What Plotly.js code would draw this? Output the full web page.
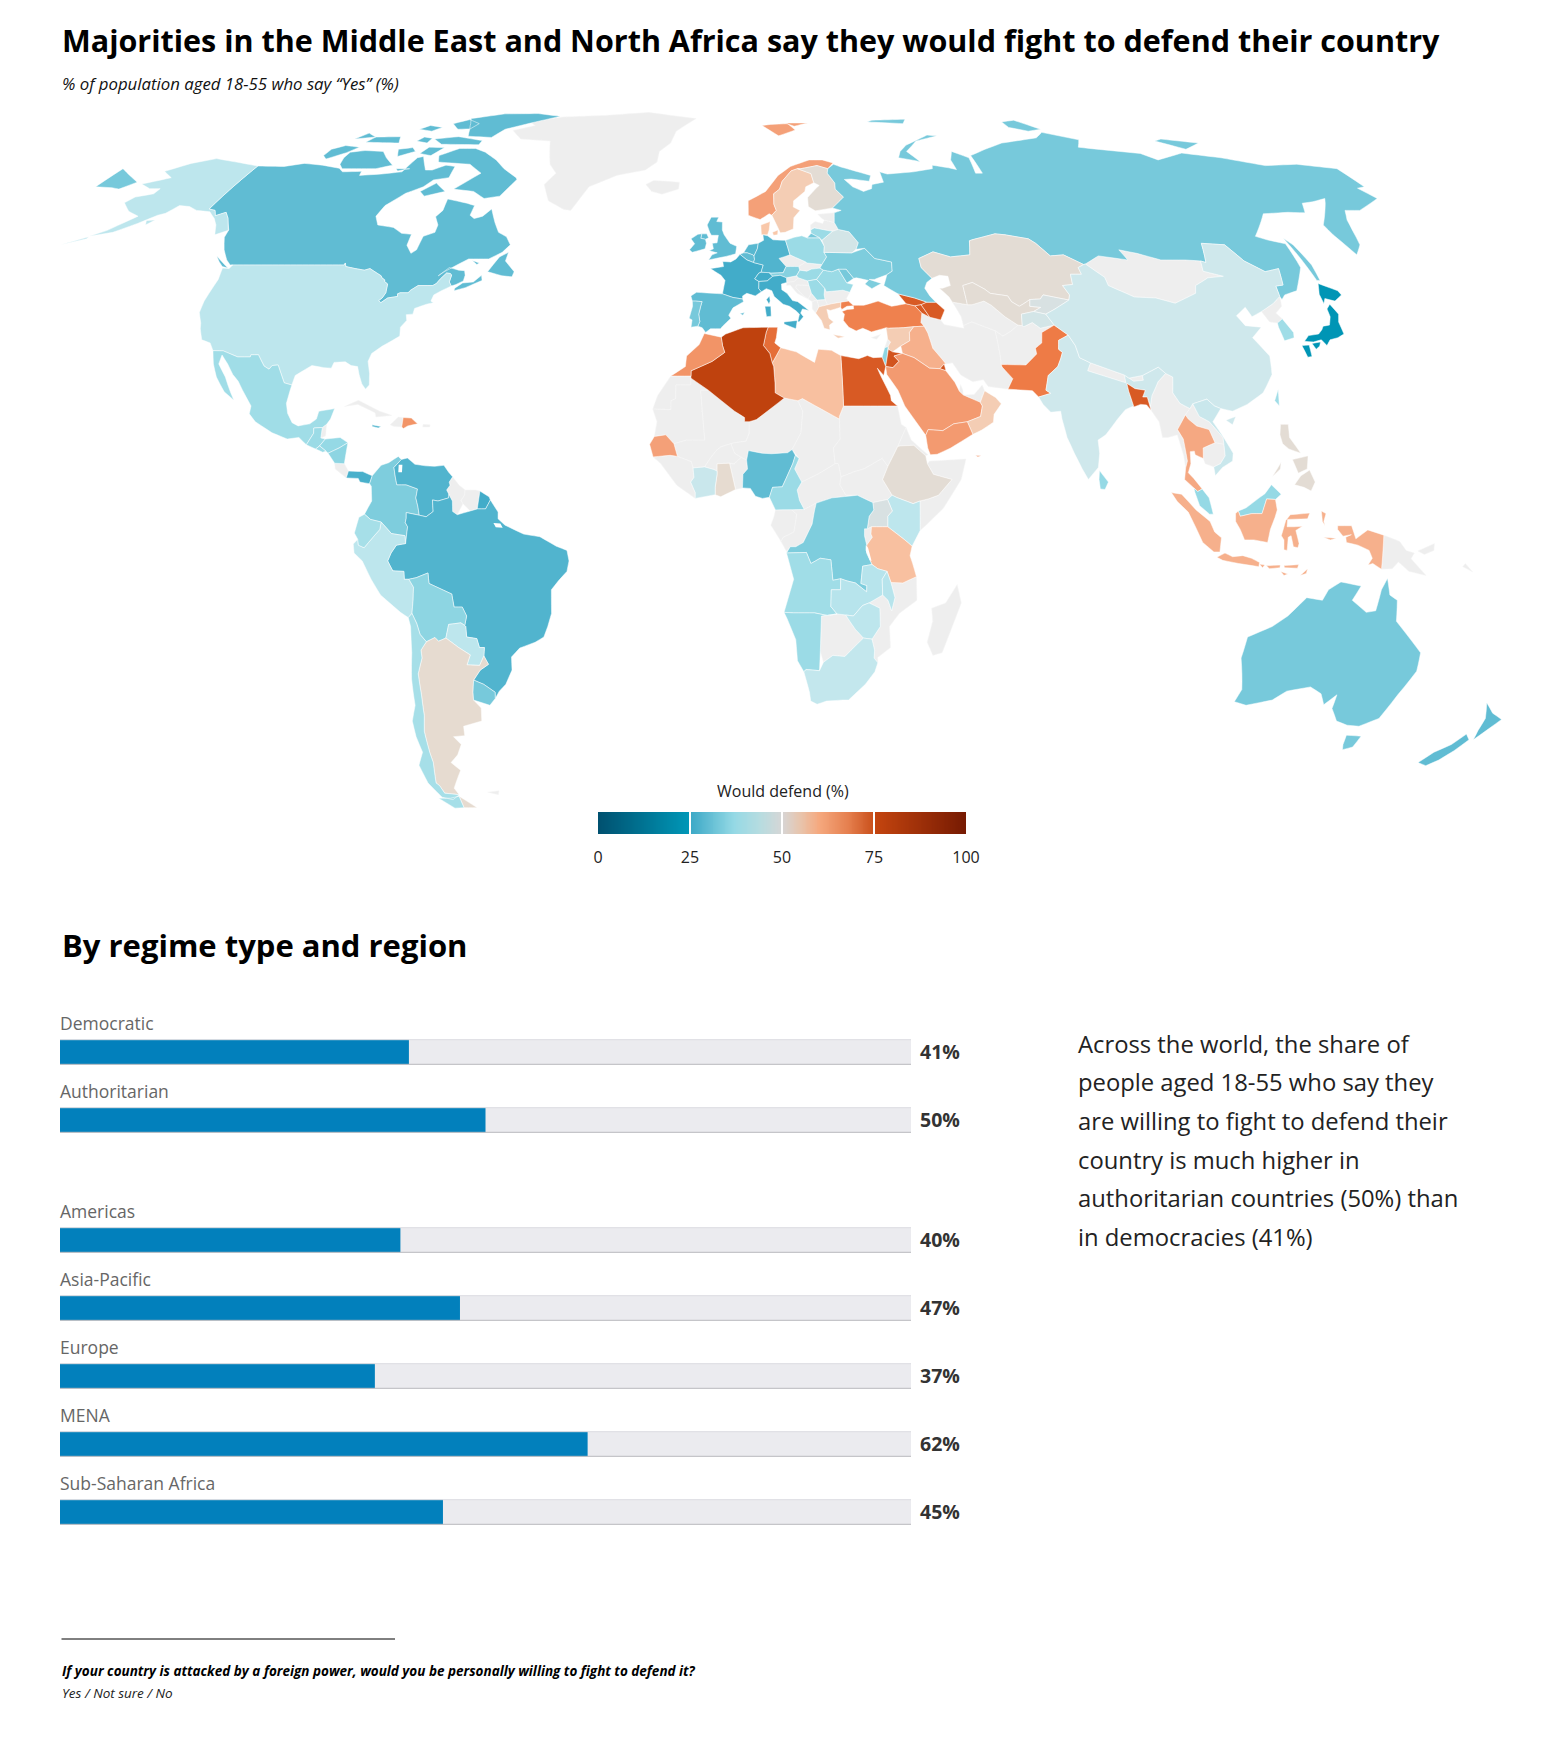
<!DOCTYPE html><html><head><meta charset="utf-8"><script src="https://cdn.plot.ly/plotly-3.0.1.min.js"></script></head><body style="margin:0;background:#fff;overflow:hidden"><div style="position:absolute;left:0;top:0;width:1556px;height:1754px;overflow:hidden"><div id="c" style="position:absolute;left:-105px;top:0"></div></div><script>
// ---------- bar chart data ----------
const regimeNames=['Democratic','Authoritarian'];
const regimeValues=[41,50];
const regionNames=['Americas','Asia-Pacific','Europe','MENA','Sub-Saharan Africa'];
const regionValues=[40,47,37,62,45];
const sideText=['Across the world, the share of','people aged 18-55 who say they','are willing to fight to defend their','country is much higher in','authoritarian countries (50%) than','in democracies (41%)'];
const legendTicks=[0,25,50,75,100];
const scaleStops=[0,25,25.01,37,44,47,50,53,57,62,68,73,75,75.01,100];
const scaleColors=['#00506f','#0098b8','#3aa8c6','#95d9e5','#bde6ed','#cfe8ec','#dcdedd','#e6dbd0','#f9c8aa','#f4a078','#ee7b46','#d85a24','#cc4e18','#c5450f','#761a02'];
const legendStops=[0,25,25.01,37,44,50,55,60,68,75,75.01,100];
const legendColors=['#00506f','#0098b8','#3aa8c6','#95d9e5','#b6dce0','#d6d6d6','#e8c4ac','#f5a97f','#e57f4e','#c94f1a','#c5450f','#761a02'];
const noDataColor='#eeeeee';
// ---------- country outlines, lon/lat flat lists ----------
const GRL=[[-73,78.2,-68,76,-58,75.5,-54,70,-51,68,-53,65.5,-50,62,-45,60.2,-43,60,-40,65,-33,67.5,-25,68.7,-22,70.5,-22,73,-19,75,-18,78,-12,81.5,-30,83.5,-45,82.5,-60,82,-70,80.5,-67,79.5]];
const ISL=[[-24,65.5,-22,64,-19,63.4,-14.5,64.5,-14.5,66,-18,66.2,-22,66.4]];
const CUB=[[-84.9,21.9,-82,23.1,-77,21,-74.2,20.2,-77.7,19.9,-78,20.7,-82,22.3]];
const HTI=[[-74.4,18.4,-72.8,19.9,-71.7,19.8,-71.8,18,-73.5,18.1]];
const PRI=[[-67.2,18.5,-65.6,18.4,-65.7,18,-67.2,18]];
const BLZ=[[-89.15,17.9,-88.3,18.5,-88.2,16.3,-89.2,15.9]];
const CRI=[[-85.7,11.1,-83.6,11,-82.6,9.6,-83,8.3,-85.5,10]];
const GUY=[[-60,8.5,-58.5,6.9,-57.2,6,-57.3,5,-58,4,-57.6,3.4,-58.8,1.3,-59.8,1.9,-59.9,3.9,-60.7,5.2,-61.2,6,-60.5,6.9,-60.7,7.5]];
const SUR=[[-57.2,6,-55,6,-54,5.8,-54.5,2.4,-56,2,-57.6,3.4,-58,4,-57.3,5]];
const FLK=[[-61,-51.8,-58,-51.5,-58.5,-52.3]];
const CZE=[[12.2,50.3,15,51,18.8,49.6,16.9,48.7,13.8,48.7]];
const SVK=[[16.9,48.7,18.8,49.6,19,49.4,22.7,49.1,22.1,48.4,20,48.2,18.8,47.8,17.1,48]];
const SVN=[[13.7,46.5,16.2,46.9,16.6,46.5,15.5,45.8,13.7,45.6]];
const HRV=[[13.7,45.6,15.5,45.8,16.6,46.5,18.8,45.9,19,45,16,45.1,15.8,44.6,17.5,43,18.5,42.4,16,43.5,14.5,45.1,13.6,45]];
const BIH=[[16,45.1,19,45,19.4,43.5,18.5,42.4,17.5,43,15.8,44.6]];
const MNE=[[18.5,42.4,19.4,43.5,20.6,42.2,19.4,41.9]];
const ALB=[[19.4,41.9,20.6,42.2,20.9,40.9,20,39.7,19.3,40.5]];
const MKD=[[20.6,42.2,22.5,42.3,23,41.3,20.9,40.9]];
const BGR=[[22.7,44.5,23,43.8,27,44.1,28.6,43.7,27.6,42.5,28,42,26.2,41.8,24,41.5,23,41.3,22.5,42.3,22.4,43.2]];
const LVA=[[21,56,21.1,57,22.5,57.7,24.4,57.3,25,58,27.5,57.5,28.2,56.1,26.6,55.7,22,56.4]];
const EST=[[23.5,59.2,28,59.5,27.5,57.5,25,58,24.4,58.3]];
const CYP=[[32.3,35,34.5,35.6,33.5,34.7]];
const TKM=[[52.5,41.8,52.9,41,53.8,39,53.9,37.3,56,38,61,36.3,62.5,35.3,64.5,36.2,66.5,37.4,64,39,61.5,41.2,60,42,57,41.3,55.9,41.3]];
const IRN=[[44.8,39.7,46.5,38.9,48.9,38.4,49.5,37.5,53.9,36.8,53.9,37.3,56,38,61,36.3,61,31.5,60.9,29.9,61,29.4,63,27.2,61.6,25.2,57.3,25.7,56.4,27,54,26.6,51.5,27.9,50,30.2,48.5,30,47.7,31,46,33,45.4,35.9,44.8,37.2,44.2,37.9]];
const AFG=[[61,36.3,62.5,35.3,64.5,36.2,66.5,37.4,67.5,37.3,67.8,37.1,70,37.9,71.5,36.8,74.9,37.4,71.6,36,71,34,69.3,33,69.3,31.9,66.4,29.8,60.9,29.9,61,31.5]];
const NPL=[[80,28.7,81,30.2,88,27.9,88,26.4]];
const BTN=[[88.9,27.3,92,27.8,92,26.9,89.8,26.7]];
const MNG=[[87.8,49.2,92,50.8,98.8,50,98,52,102,51.3,107,50,113,50,116.7,49.8,115.8,47.8,120,46.8,116,46.5,112,45,111,43.5,105,41.6,101,42.6,96,42.8,91,45,91,46.6]];
const PRK=[[124.3,40,128,41.5,130.6,42.9,129.7,41,127.5,39.7,128.3,38.6,126.7,37.8,125,38]];
const MMR=[[92.6,22,93.3,24,95.2,26.6,97.3,28.2,98.7,27.5,98,24.5,99.2,22.5,101.2,21.5,100,20.3,97.8,17.5,98.8,15.7,99.2,11.5,98.7,10.2,98.5,12.5,97.6,16.5,95.5,16,94.3,16,94,19,92.6,21.2]];
const LAO=[[101.2,21.5,102,22.4,103,20,105,19,107.5,16,107.5,14.7,105.6,15,104.7,17.5,102.1,18.2,100.5,19.5,100,20.3]];
const KHM=[[102.9,14,105.6,15,107.5,14.7,107.5,12.5,106.3,11,104.8,10.4,103,11,102.7,12]];
const MDG=[[49.3,-12,50.4,-15.5,47,-25,45,-25.5,43.5,-23,44.4,-19,44,-16.5,47,-15.5]];
const PNG=[[141,-2.6,144.5,-3.8,146,-5.5,147.8,-6,147.2,-7.1,150.8,-10.3,147,-9.5,144.5,-7.7,143.3,-9,141,-9.1],[148.5,-5.6,152,-4.2,152,-5.5,150,-6.3],[159,-8,160.8,-9.6,158.5,-8.6]];
const QAT=[[50.8,24.8,51.2,26.1,51.6,25,51.6,24.1]];
const ARE=[[51.6,24.1,54,24.2,56,26,56.4,24.9,55.2,22.7]];
const LBN=[[36,34.7,36.6,34.2,35.9,33.3,35.1,33.1]];
const ESH=[[-13.2,27.7,-8.7,27.7,-8.7,26,-12,26,-12,23.4,-13,23,-13,21.3,-17,21.4,-16,24,-14.5,26]];
const MRT=[[-17,21.4,-13,21.3,-13,23,-12,23.4,-12,26,-8.7,26,-8.7,27.3,-4.8,25,-6.5,25,-5.5,15.5,-9.5,15.5,-12.2,14.8,-14,16.5,-16.5,16.2,-16,19]];
const MLI=[[-4.8,25,1,21,3.2,19.8,3.2,19,4.2,19,4.2,16.8,3.5,15.3,1,15,0.2,14.8,-2,14.2,-3,13.5,-4.3,12,-5.5,10.4,-8,10.2,-8.4,11.4,-11.4,12.4,-12.2,14.8,-9.5,15.5,-5.5,15.5,-6.5,25]];
const NER=[[12,23.5,15,23,16,21,15.5,16.9,13.5,13.7,12.5,13.1,9,12.9,7,13,4,13.5,3.6,11.7,2.4,12.2,1,13,0.2,14.8,1,15,3.5,15.3,4.2,16.8,4.2,19,5.8,19.4]];
const TCD=[[15,23,16,23.4,24,19.5,24,15.7,22.5,14,22.8,11,19,9,15.5,7.5,14,10,15,12,13.5,13.7,15.5,16.9,16,21]];
const SDN=[[24,19.5,24,20,25,22,36.9,22,37.5,18.5,38.5,17.9,36.5,14.3,34.2,10.5,33,12,29,10,27,9.5,24,8.5,23.5,11,22.8,11,22.5,14,24,15.7]];
const SSD=[[24,8.5,27,9.5,29,10,33,12,34.2,10.5,33,8,35,5,34,4.2,30.8,3.6,27.5,5,25,5,23.7,7]];
const CAF=[[14.5,6,15.5,7.5,19,9,22.8,11,23.5,11,24,8.5,23.7,7,25,5,27.5,5,22,4.5,18.6,3.5,16,2.3,15,4]];
const ERI=[[36.5,14.3,38.5,17.9,39.5,15.5,43,12.7,42.5,12.5,40,14.5,37,14.4]];
const SOM=[[41,-1.7,41,3.9,42.8,4.3,45,5,48,8,44,9,42.8,11,43.3,11.5,51.2,11.9,50,8,46,2.5,42.5,-0.5]];
const RWA=[[29,-1.4,30.5,-1,30.4,-2.4,30.7,-3,29.5,-4.5,29,-2.7]];
const MOZ=[[40.4,-10.5,40.7,-15,37,-17.5,35,-20,35.5,-24,32.8,-25.9,32.9,-26.9,32,-26,32,-24.5,31.3,-22.4,33,-20,32.7,-16.5,30.3,-15.5,33.2,-14,34.4,-15,35.3,-17,35.9,-14.5,34.9,-11.6,37.5,-11.7]];
const BWA=[[20,-18,21.3,-17.9,23.4,-17.6,25.3,-17.8,26,-18.7,27.5,-20.5,29.4,-22.2,26.8,-24.5,25.5,-25.7,22.8,-25.5,20.8,-26.8,20,-24.7,20,-22]];
const LSO=[[27,-29.7,28.7,-28.6,29.4,-29.6,28,-30.6]];
const SWZ=[[30.8,-26,32,-26,32,-27.3,30.9,-27]];
const GAB=[[9.8,2.2,13.3,2.2,14.4,1.4,13.8,-2,11.5,-3,11,-3.8,8.8,-0.7,9.5,1]];
const COG=[[11,-3.8,11.5,-3,13.8,-2,14.4,1.4,13.3,2.2,16,2.3,18.6,3.5,18.2,2,17.7,-0.5,15.8,-4,14.2,-4.8,13,-4.8,12.2,-5.7]];
const BEN=[[-0.1,11.1,1.2,6.1,2.7,6.4,2.8,9,3.8,10,3.6,11.7,2.4,12.2,0.9,11]];
const BFA=[[-5.5,10.4,-4.3,12,-3,13.5,-2,14.2,0.2,14.8,1,13,2.4,12.2,0.9,11,-0.1,11.1,-2.8,11,-2.8,9.6,-3.5,9.9]];
const GIN=[[-16.7,12.3,-15,11,-13.3,9,-11.5,6.9,-7.5,4.4,-7.5,5.5,-8.5,7.5,-7.8,8.4,-8,10.2,-8.4,11.4,-11.4,12.4,-13,12.6]];
const CAN=[[-123.3,49,-95.2,49,-95.15,49.4,-94.6,48.7,-92,48.3,-89.6,48,-88.4,48.3,-84.9,46.9,-84.5,46.5,-83.6,46.1,-83.5,45.8,-82.5,45.3,-82.1,43.6,-82.5,42.6,-83.1,42.1,-82.4,41.7,-81.2,42.6,-79,42.9,-79.2,43.4,-78.7,43.6,-76.8,43.6,-76.4,44.1,-75,45,-71.5,45,-70.8,45.4,-70.2,46.3,-69.2,47.45,-68.3,47.35,-67.8,47.06,-67.8,45.7,-67.4,45.3,-67,44.9,-66,45.2,-64.5,45.9,-64.5,47,-65,47.9,-66.5,48,-69,48.5,-71,46.9,-70,47.6,-67,49.2,-65,50.2,-60,50.2,-57.2,51.5,-55.8,53,-57.5,54.6,-60,55.5,-62,57.5,-64.5,60.3,-66,58.8,-68,58.3,-69.5,59,-69.6,61,-72,61.5,-78,62.4,-77.5,60,-78.5,58.7,-76.7,57,-76.5,55.5,-79,54.7,-79,52,-80,51.3,-82,52.9,-82.3,55.1,-85,55.3,-88,56.5,-92.5,57,-94.5,58.8,-94,61,-90.7,63.6,-87,65,-85.5,66.5,-81.5,67,-82,69.5,-85,69.8,-88,68.7,-90,68.7,-91,69.5,-94,71.8,-95.5,71.5,-96.5,68.3,-102,67.8,-108,67.5,-108.5,68.4,-114,68.3,-116,69.1,-122,69.8,-128,70.2,-133,69.5,-141,69.6,-141,60.3,-139,60,-137.5,58.9,-135.5,59.6,-133.5,58.4,-130.5,56,-130,54.5,-127.5,52,-125,50],
[-61.5,66.6,-64,63,-68,62.5,-72,64,-78,64.5,-73,68,-78,70,-88,70.5,-89.5,72,-85,73.7,-80,73.7,-76,72.8,-71,71,-67,69,-62,67],
[-105,69,-115,69,-117,70,-118,71.5,-118,72.8,-114,73.2,-108,73,-105,71.5,-101,69.8],
[-125,72,-123,71.2,-119,72.7,-117,74,-122,74.4,-125,73.5],
[-61,82.2,-70,83.1,-82,83,-92,81.5,-88,78.5,-86,76.7,-78,76.4,-76,78.5,-68,80.5],
[-87,80,-92,81.2,-96,80,-92,78.5,-88,78.6],[-80,74.6,-92,74.7,-96,76,-89,76.6,-80,75.6],[-106,75,-117,75.2,-116,76.5,-108,76.6],[-90,73.9,-95,74,-96,72.5,-92,72],[-98,73,-102,71.8,-104,73.5,-100,73.9],[-80,64,-85,63,-87,64,-84,65.8],[-100,78,-105,78.5,-103,79.5,-98,79],
[-97,75,-101,75.5,-100,76.5,-97,76.2],[-116,76.5,-122,76,-120,77.5],[-95,69,-99,69,-98,68.5],
[-59.3,47.7,-55.5,46.9,-53,46.7,-52.8,47.7,-55.7,49.8,-55.6,51.5,-57.5,50.6],[-128.2,50.8,-123.4,48.4,-125,48.7,-126.5,49.6],[-66,44,-63.5,44.6,-60,46,-60.5,47,-62,45.7,-64.5,45.5,-66,44.5],[-64,49.9,-62,49.4,-62.5,49.1]];
const USA=[[-123,49,-95.2,49,-95.15,49.4,-94.6,48.7,-92,48.3,-89.6,48,-88.4,48.3,-84.9,46.9,-84.5,46.5,-83.6,46.1,-83.5,45.8,-82.5,45.3,-82.1,43.6,-82.5,42.6,-83.1,42.1,-82.4,41.7,-81.2,42.6,-79,42.9,-79.2,43.4,-78.7,43.6,-76.8,43.6,-76.4,44.1,-75,45,-71.5,45,-70.8,45.4,-70.2,46.3,-69.2,47.45,-68.3,47.35,-67.8,47.06,-67.8,45.7,-67.4,45.3,-67,44.9,-69,44,-70.5,43.2,-70.7,42,-70,41.7,-71.5,41.4,-74,40.6,-74,39.5,-75.5,39.4,-75,38.3,-76,37,-75.6,35.3,-77,34.5,-79,33.4,-81,32,-81.4,30.5,-80.5,28.2,-80.1,26,-80.8,25.2,-81.8,26.2,-82.8,28,-83.5,29.5,-85,29.7,-86.5,30.4,-89,30.3,-89.3,29.2,-91,29.3,-93.8,29.7,-95,29,-97,27.8,-97.3,26,-99.1,26.4,-100.3,28.2,-101.4,29.8,-102.7,29.7,-103.2,29,-104.5,29.6,-106.5,31.75,-108.2,31.75,-108.2,31.33,-111,31.33,-114.8,32.5,-117.1,32.53,-118.4,34,-120.6,34.6,-122,36.7,-122.5,37.8,-124,39.8,-124.3,42,-124,46.2,-124.7,48.4,-123,48.3,-122.7,49],
[-141,69.6,-148,70.4,-156.5,71.3,-162,70.2,-166.5,68.4,-162,67,-164,66.5,-168,65.6,-164,64.6,-161,64.6,-161,63.5,-165,62.8,-166,61.6,-162,59.8,-158,58.8,-162,55.9,-165,54.7,-160,55.5,-156,57.3,-153,59,-151.5,59.4,-150,61,-147,60.8,-144,60,-140,59.7,-137,58.3,-135,57,-133,55,-130.5,55.9,-133.5,58.4,-135.5,59.6,-137.5,58.9,-139,60,-141,60.3],
[-165,54.6,-170,53,-165,54.2],[-154.5,57.9,-152.3,58,-153.5,57]];
const MEX=[[-117.1,32.53,-114.8,32.5,-111,31.33,-108.2,31.33,-108.2,31.75,-106.5,31.75,-104.5,29.6,-103.2,29,-102.7,29.7,-101.4,29.8,-100.3,28.2,-99.1,26.4,-97.3,26,-97.8,22.5,-97.2,20.6,-95.9,18.8,-94.5,18.2,-92,18.6,-90.7,19.5,-90.4,21,-87,21.5,-87.6,19.5,-88.3,18.5,-89.15,17.9,-91,17.8,-90.9,16.8,-92.2,14.6,-94,16,-96.5,15.7,-100,16.9,-104,19,-105.6,20.5,-105.5,22,-108,25,-109.4,26.7,-111,28,-112.8,30,-114.7,31.7,-114.8,30,-112.5,27.5,-110.5,24.5,-109.5,23.1,-112,24.7,-114.5,27.5,-116,30]];
const GTM=[[-92.2,14.6,-90.9,16.8,-91,17.8,-89.15,17.9,-89.2,15.9,-88.2,15.7,-89.3,14.4,-90.1,13.8]];
const HND=[[-88.2,15.7,-85,16,-83.2,15,-85,14,-87.3,13,-87.8,13.4,-89.3,14.4]];
const SLV=[[-90.1,13.8,-89.3,14.4,-87.8,13.4,-88.5,13.2]];
const NIC=[[-83.2,15,-83.6,11,-85.7,11.1,-87.3,13,-85,14]];
const PAN=[[-82.6,9.6,-79.5,9.5,-77.4,8.7,-77.9,7.2,-80,7.5,-80.4,8.2,-83,8.3]];
const JAM=[[-78.3,18.4,-76.3,18.1,-76.9,17.8,-78.3,18.1]];
const DOM=[[-71.7,19.8,-69.9,19.7,-68.4,18.6,-70.5,18.2,-71.4,17.7,-71.8,18]];
const COL=[[-77.4,8.7,-75.6,10.7,-74,11.2,-72,12.4,-71.3,11.8,-72.8,10.3,-72.4,8.5,-72,7,-70,7,-67.5,6.2,-67.8,4.5,-67.3,2.8,-67,1.2,-69.8,1.7,-69.8,0.6,-70,-0.2,-69.5,-1,-70,-4.2,-70.1,-2.7,-73,-2.3,-75.2,-0.1,-77.5,0.4,-78.8,1.4,-77.3,3.9,-77.5,6.7,-77.9,7.2]];
const VEN=[[-71.3,11.8,-70,12.1,-68.3,10.9,-66,10.6,-64,10.5,-62,10.7,-60.9,9.4,-60,8.5,-60.7,7.5,-60.5,6.9,-61.2,6,-60.7,5.2,-60.7,4.5,-63,3.9,-64.2,4.1,-64,1.9,-65.5,0.9,-67,1.2,-67.3,2.8,-67.8,4.5,-67.5,6.2,-70,7,-72,7,-72.4,8.5,-72.8,10.3]];
const GUF=[[-54,5.8,-52,4.7,-51.7,4.1,-52.7,2.4,-54.5,2.4]];
const BRA=[[-51.7,4.1,-50,1.8,-50,0.5,-48.5,-0.7,-44.5,-2.4,-41,-2.9,-37.5,-4.7,-35.2,-5.5,-34.8,-7.5,-35.3,-9.5,-37.2,-11.3,-38.8,-13,-39,-17.5,-40,-20,-41,-22,-43,-23,-46.5,-24.1,-48.5,-25.8,-48.7,-28.3,-50.5,-31,-52.2,-32.3,-53.4,-33.7,-53.2,-32.5,-55.5,-31,-57.6,-30.2,-55.8,-28.3,-53.8,-27.2,-54.6,-25.6,-54.3,-24,-55.4,-24,-55.8,-22.3,-58,-22,-58,-20,-58.2,-19.8,-57.6,-18,-58.4,-16.3,-60.2,-16.3,-60.5,-13.8,-62.2,-13.1,-65.3,-11.8,-65.4,-9.8,-68,-10.7,-69.6,-11,-70.6,-11,-70.6,-9.5,-73,-9.4,-74,-7.5,-73.2,-6,-72,-4.5,-70,-4.2,-69.5,-1,-70,-0.2,-69.8,0.6,-69.8,1.7,-67,1.2,-65.5,0.9,-64,1.9,-64.2,4.1,-63,3.9,-60.7,4.5,-60.7,5.2,-59.9,3.9,-59.8,1.9,-58.8,1.3,-56,2,-54.5,2.4,-52.7,2.4]];
const PER=[[-80.3,-3.4,-80.2,-4.5,-79,-5,-77,-3,-75.5,-1.5,-75.2,-0.1,-73,-2.3,-70.1,-2.7,-70,-4.2,-72,-4.5,-73.2,-6,-74,-7.5,-73,-9.4,-70.6,-9.5,-70.6,-11,-69.6,-11,-68.7,-12.5,-69,-15,-69.5,-17.5,-70.4,-18.3,-72,-17.3,-76,-14,-77.8,-11,-79.5,-7.5,-81.2,-6,-81.3,-4.3]];
const ECU=[[-80.3,-3.4,-81,-2.2,-80,0.8,-78.8,1.4,-77.5,0.4,-75.2,-0.1,-75.5,-1.5,-77,-3,-79,-5,-80.2,-4.5]];
const BOL=[[-69.6,-11,-68,-10.7,-65.4,-9.8,-65.3,-11.8,-62.2,-13.1,-60.5,-13.8,-60.2,-16.3,-58.4,-16.3,-57.6,-18,-58.2,-19.8,-59,-19.3,-61.7,-19.6,-62.6,-22.2,-64.3,-22.8,-65,-22.1,-67,-22.9,-68.2,-21.5,-68.7,-19.4,-69.5,-17.5,-69,-15,-68.7,-12.5]];
const PRY=[[-58.2,-19.8,-58,-20,-58,-22,-55.8,-22.3,-55.4,-24,-54.3,-24,-54.6,-25.6,-55.8,-27.4,-58.6,-27.3,-57.6,-25.4,-60,-24,-62.6,-22.2,-61.7,-19.6,-59,-19.3]];
const ARG=[[-65,-22.1,-64.3,-22.8,-62.6,-22.2,-60,-24,-57.6,-25.4,-58.6,-27.3,-55.8,-27.4,-54.6,-25.6,-53.8,-27.2,-55.8,-28.3,-57.6,-30.2,-58.2,-32.5,-58.4,-34,-57,-35.5,-57.5,-38,-62,-39,-62.3,-40.8,-65,-41,-63.7,-42.5,-65.3,-44.5,-67.5,-46,-65.8,-47.5,-69,-51,-68.4,-52.3,-71.9,-52,-72.4,-50.5,-73,-50,-71.8,-46,-71.8,-44,-71.5,-40,-70.5,-37,-70,-33,-69.8,-29,-68.4,-26,-68.4,-24.5,-67,-22.9],[-68.6,-52.6,-65.2,-54.9,-68.6,-54.9]];
const CHL=[[-70.4,-18.3,-69.5,-17.5,-68.7,-19.4,-68.2,-21.5,-67,-22.9,-68.4,-24.5,-68.4,-26,-69.8,-29,-70,-33,-70.5,-37,-71.5,-40,-71.8,-44,-71.8,-46,-73,-50,-72.4,-50.5,-71.9,-52,-68.4,-52.3,-70.5,-53.3,-73,-52.8,-75,-50,-75.5,-46.5,-73.5,-44,-73.8,-41,-73.6,-38,-72,-35,-71.5,-30,-70.5,-25,-70.1,-20],[-68.6,-52.6,-68.6,-54.9,-71,-55,-74,-53,-71,-53]];
const URY=[[-57.6,-30.2,-55.5,-31,-53.2,-32.5,-53.4,-33.7,-54.9,-35,-58.4,-34,-58.2,-32.5]];
const GBR=[[-5.3,50,-1,50.7,1.4,51.2,1.7,52.7,0,53.3,-1.5,55,-2,56,-2,57.6,-3.5,57.7,-3,58.6,-5,58.6,-6,57,-5.2,55.4,-4.8,54.9,-3,54.9,-3.3,53.4,-4.5,53.3,-4.2,52.2,-5.2,51.8,-3.2,51.4,-4.5,51],[-7.3,55.2,-6,55.2,-5.5,54.4,-6.3,54.1,-7.5,54.3]];
const IRL=[[-6,53.3,-6.3,52.2,-9.5,51.5,-10.2,52,-9,53.2,-10,54.2,-8.3,55.1,-7.3,55.2,-7.5,54.3,-6.3,54.1]];
const NOR=[[4.9,59,5,62,10,64,14,67.5,18,69.5,24,71,28,71,31,70.3,29,69,26,69.7,21,69,20,69,18,68.5,15,66.2,14,64.5,12.2,63.5,12,61.3,12.5,60,11.2,59,10.5,59.3,8,58.1,5.5,58.8],[11,79.5,16,76.8,22,78.3,20,80,14,79.8],[19,80.2,27,80.2,22,79.3]];
const SWE=[[11.2,59,12.5,60,12,61.3,12.2,63.5,14,64.5,15,66.2,18,68.5,20,69,23.7,67.9,24,65.9,21.5,65,21,64,17.5,62,17.2,60.7,18.9,60,17,58.5,16.5,56.2,14.3,55.5,13,55.4,12.6,56.3]];
const FIN=[[20,69,21,69,26,69.7,29,69,28.5,68,30,65.8,29.7,64.5,31.5,62.8,27.8,60.5,23,59.9,21.3,60.8,21.5,62.7,24.5,64.8,25.4,65.3,24,65.9,23.7,67.9]];
const DNK=[[8.1,55,8.1,57,10.6,57.7,10.2,56,9.7,55],[11,55.5,12.5,56,12.3,55,11.2,54.9]];
const NLD=[[3.4,51.4,4.7,53,7.2,53.3,6.9,52.2,6,50.8,5.7,51,4.3,51.4]];
const BEL=[[2.5,51.1,3.4,51.4,4.3,51.4,5.7,51,6,50.8,6.1,50.1,5.8,49.5,4.2,50]];
const FRA=[[2.5,51.1,4.2,50,5.8,49.5,8.2,49,7.6,47.6,7,47.4,6,46.3,7,45.8,6.9,44.4,7.5,43.8,6,43,4,43.5,3,43,3,42.4,0.7,42.7,-1.8,43.4,-1.2,46,-2.2,47,-4.8,48.3,-1.6,48.7,-1.8,49.7,0.2,49.6,1.5,50.2],[8.6,42.3,9.4,43,9.5,42,9.2,41.4]];
const ESP=[[-1.8,43.4,0.7,42.7,3,42.4,3.2,41.9,0.7,40.7,-0.3,39.3,0.2,38.7,-1.7,37.2,-2.2,36.7,-4.5,36.7,-5.6,36,-6.4,36.9,-7.4,37.2,-7,38.1,-7.3,39.5,-6.9,41,-6.6,41.9,-8.2,42,-8.9,42,-9.3,43,-8,43.7],[2.3,39.6,3.4,39.8,3,39.3]];
const PRT=[[-8.9,42,-8.2,42,-6.6,41.9,-6.9,41,-7.3,39.5,-7,38.1,-7.4,37.2,-9,37,-8.8,38.4,-9.5,38.7,-8.8,41]];
const DEU=[[6,50.8,6.9,52.2,7.2,53.3,8.6,53.9,8.5,55,9.7,54.8,11,54,14.2,53.9,14.6,52.5,15,51,12.2,50.3,13.8,48.7,13,47.5,10,47.4,7.6,47.6,8.2,49,5.8,49.5,6.1,50.1]];
const CHE=[[6,46.3,7,47.4,7.6,47.6,9.6,47.5,10.4,46.8,9,45.9,7,45.8]];
const AUT=[[9.6,47.5,10,47.4,13,47.5,13.8,48.7,16.9,48.7,17.1,48,16.2,46.9,13.7,46.5,12.2,47,10.4,46.8]];
const ITA=[[6.9,44.4,7,45.8,9,45.9,10.4,46.8,12.2,47,13.7,46.5,13.7,45.6,12.4,45.3,12.4,44.2,13.6,43.5,14.8,42.1,16,41.9,18.5,40.2,17,40.5,16.5,39.7,17.1,39,16,38,15.7,38.1,16.2,39.5,15.5,40.1,14,41,12.5,41.4,10.5,42.9,10,44,8.7,44.4,7.5,43.8],[12.5,38,15.6,38.3,15.2,36.7,12.5,37.6],[8.2,41,9.6,41,9.6,39.1,8.5,39]];
const POL=[[14.2,53.9,16.5,54.5,18.5,54.8,19.8,54.4,23,54.4,23.9,52.7,23.6,51.5,24.1,50.6,22.7,49.1,19,49.4,18.8,49.6,15,51,14.6,52.5]];
const HUN=[[16.2,46.9,17.1,48,18.8,47.8,20,48.2,22.1,48.4,22.9,48,21,46.2,18.8,45.9,16.6,46.5]];
const SRB=[[18.8,45.9,21,46.2,22.7,44.5,22.4,43.2,22.5,42.3,20.6,42.2,19.4,43.5,19,45]];
const ROU=[[22.9,48,24.9,47.7,26.6,48.2,28.2,45.5,29.7,45.2,28.6,43.7,27,44.1,23,43.8,22.7,44.5,21,46.2]];
const MDA=[[26.6,48.2,28.5,48.2,30,46.4,28.2,45.5]];
const UKR=[[22.1,48.4,22.7,49.1,24.1,50.6,23.6,51.5,30.6,51.4,34,52.3,36,50.3,40,49.6,39.7,47.8,38.2,47.1,35,46.2,33.7,46.2,36.5,45.4,34,44.4,32.5,45.3,33.5,46,30.7,46.5,30,46.4,28.5,48.2,26.6,48.2,24.9,47.7,22.9,48]];
const BLR=[[23.9,52.7,23.5,53.9,26.6,55.7,28.2,56.1,30.9,55.6,32.7,53.4,31.8,52.1,30.6,51.4,23.6,51.5]];
const LTU=[[21,56,22,56.4,26.6,55.7,23.5,53.9,23,54.4,21,55.3]];
const GRC=[[20,39.7,20.9,40.9,23,41.3,24,41.5,26.2,41.8,26,40.8,23.5,40.2,22.7,40.4,23,38.7,24,38,23,37.4,23,36.5,21.7,36.8,21.2,38.3],[23.6,35.6,26.3,35.2,24.7,34.9]];
const TUR=[[26.2,41.8,28,42,29,41.2,31.5,41.2,35,42,38,41,41.5,41.5,43.5,41.1,44.8,39.7,44.2,37.9,44.8,37.2,42.4,37.1,40,36.9,36.7,36.8,36.1,35.9,36,36.9,32.5,36.1,30.6,36.8,29,36.3,27.4,37,26.3,38.3,26.7,39.5,26.2,40,27.5,40.4,29,40.5,29,41.1,27.5,41,26.2,40.4,26,40.8]];
const GEO=[[40,43.4,43.8,42.6,46.5,41.8,45,41.3,43.5,41.1,41.5,41.5]];
const ARM=[[43.5,41.1,45,41.3,46.5,38.9,44.8,39.7]];
const AZE=[[45,41.3,46.5,41.8,48.6,41.8,50.3,40.3,48.9,38.4,46.5,38.9]];
const RUS=[[27.8,60.5,31.5,62.8,29.7,64.5,30,65.8,28.5,68,29,69,31,70,33,69.4,41,67.5,40,66.2,35,66.7,33,66.6,34.8,65,37.5,64,40,64.6,40.5,65.5,44,66,44,68.3,46,67.8,54,68.3,60,69,60.5,69.8,65,69.2,67,68.8,67,71,69,73,73,71.5,72,68,74,68,74,72,80,73.5,87,75,100,76.3,104,77.7,113,75.8,110,74,113,73.7,127,72.5,130,71,140,72.6,150,71.5,160,69.7,170,70,179.99,69,179.99,65,177.5,64.7,179,62.5,170,60,166,60,163.5,58,162,56,160,53,156.8,51,155.7,55,155.8,57,163,61.5,164.5,62.5,160,61.8,156.7,61.5,154.5,59.5,150,59.6,143,59.3,135.3,54.7,137.5,54,141.3,53.2,140.3,48.5,135.5,44,132,43.2,130.7,42.3,130.6,42.9,131.2,44.9,133.1,45.1,134.7,48.3,130.9,47.7,127.5,49.8,125.6,53,120,53.3,117.8,49.5,116.7,49.8,113,50,107,50,102,51.3,98,52,98.8,50,92,50.8,87.8,49.2,87.3,49.1,83.4,51,80,50.8,77.8,53.3,76.5,54.2,71,55,68.5,55.2,62,54,61.2,53.8,60,51,55,50.6,51,51.6,47,50.3,47,48.5,49,46.4,47.5,45.6,46.7,44.5,47.5,43,48.6,41.8,46.5,41.8,43.8,42.6,40,43.4,37,45,38,46.7,38.2,47.1,39.7,47.8,40,49.6,36,50.3,34,52.3,31.8,52.1,32.7,53.4,30.9,55.6,28.2,56.1,27.5,57.5,28,59.5,30,60],
[-179.99,69,-175,67.5,-170,66,-172.5,64.5,-175,64.8,-179.99,65],[142,54.3,143,53,143.5,49,142.8,46,142,46,142,50],[51.5,71.5,55,71,57.5,70.6,55,73,60,75.5,68,76.8,65,77,56,74.5,53,73],[95,79,100,78,105,78.5,100,81,95,80.5],[137,75.5,143,73.5,150,75,140,76],[48,80.5,60,80,62,81.3,50,81],[19.8,54.4,23,54.4,21,55.3]];
const KAZ=[[87.3,49.1,83.4,51,80,50.8,77.8,53.3,76.5,54.2,71,55,68.5,55.2,62,54,61.2,53.8,60,51,55,50.6,51,51.6,47,50.3,47,48.5,49,46.4,51,47,53,46.8,53,45,51,44.5,50.2,44.5,52,42.8,52.5,41.8,55.9,41.3,56,45,58.5,45.6,61,44.3,62,43.5,66,43,66.5,41.9,68,41,69,41.4,71,42.3,73.5,42.4,74.5,43.2,80.2,42.2,80.8,43.2,80,45,82.5,45.2,83,47.2,85.7,47.2,85.6,48.5]];
const UZB=[[55.9,41.3,56,45,58.5,45.6,61,44.3,62,43.5,66,43,66.5,41.9,68,41,69,41.4,71,42.3,70.5,41,73,40.8,71,40,68,39.5,67.5,37.3,66.5,37.4,64,39,61.5,41.2,60,42,57,41.3]];
const KGZ=[[71,42.3,73.5,42.4,74.5,43.2,80.2,42.2,76,40.4,73.7,39.5,71,40,73,40.8,70.5,41]];
const TJK=[[68,39.5,71,40,73.7,39.5,74.9,37.4,71.5,36.8,70,37.9,67.8,37.1,67.5,37.3]];
const PAK=[[60.9,29.9,66.4,29.8,69.3,31.9,69.3,33,71,34,71.6,36,74.9,37.4,77.5,35.5,75,34.5,74.5,32.8,75.2,32.2,74.5,31,73.5,29.5,71,27.8,70,25,71,24.4,68.2,23.7,67,24.9,61.6,25.2,63,27.2,61,29.4]];
const IND=[[77.5,35.5,78.5,33.5,78.8,31.2,81,30.2,80,28.7,88,26.4,88,27.9,88.9,27.3,89.8,26.7,92,26.9,92,27.8,96,29.4,97.3,28.2,95.2,26.6,93.3,24,92.6,22,92.2,23.7,91.2,23.7,92,25,89.8,25.3,88.2,26.3,88.3,24.8,88.9,22,87,21.3,85,19.5,82,16.5,80.2,15.5,80.3,13,79.8,10.3,77.5,8,76.3,10,74.8,13,73.5,16,72.8,19.5,72.7,21,70.5,20.8,69,22.3,68.2,23.7,71,24.4,70,25,71,27.8,73.5,29.5,74.5,31,75.2,32.2,74.5,32.8,75,34.5]];
const BGD=[[88.3,24.8,88.2,26.3,89.8,25.3,92,25,91.2,23.7,92.2,23.7,92.6,21.2,91.8,22.2,90.5,22.3,88.9,21.8,88.9,22]];
const LKA=[[80,9.7,81.8,7.5,81,6.1,80,6.2,79.8,8]];
const CHN=[[74.9,37.4,73.7,39.5,76,40.4,80.2,42.2,80.8,43.2,80,45,82.5,45.2,83,47.2,85.7,47.2,85.6,48.5,87.3,49.1,87.8,49.2,91,46.6,91,45,96,42.8,101,42.6,105,41.6,111,43.5,112,45,116,46.5,120,46.8,115.8,47.8,116.7,49.8,117.8,49.5,120,53.3,125.6,53,127.5,49.8,130.9,47.7,134.7,48.3,133.1,45.1,131.2,44.9,130.6,42.9,128,41.5,124.3,40,121.5,39,121,40.8,118,39.2,119,37.3,122.5,37,119.5,35,121.8,31.5,121,28,118,24.5,114,22.3,110.5,21,108,21.5,106.7,22,105.3,23.3,102,22.4,101.2,21.5,99.2,22.5,98,24.5,98.7,27.5,97.3,28.2,96,29.4,92,27.8,88.9,27.3,88,27.9,81,30.2,78.8,31.2,78.5,33.5,77.5,35.5],[108.7,19.3,111,20,110,18.4]];
const TWN=[[120.2,23,121.5,25.2,121,22]];
const KOR=[[126.7,37.8,128.3,38.6,129.4,36,129,35,126.5,34.4,126.5,37]];
const JPN=[[131,34.3,132.5,35.4,135,35.7,136.2,36.5,136.9,37.2,138.5,37.4,139.7,39,140,40.5,141.3,41.4,142,39.5,141,38,140.8,35.7,139,35,137,34.6,135.7,33.5,135,34.6,133,34.2],[140,41.5,140.3,43.3,141.8,45.4,145.3,44,145.5,43.2,143,42,141,42.5],[130,33.5,131.7,33.6,131.3,31.4,130.3,31.3],[132.5,33.9,134.6,34.2,134,33.4,132.9,32.8]];
const THA=[[97.8,17.5,100,20.3,100.5,19.5,102.1,18.2,104.7,17.5,105.6,15,102.9,14,102.7,12,101,12.7,100.9,13.4,100,13.3,99.9,11,99.2,9.3,100.3,8.2,102,6.2,101,5.7,100.2,6.4,98.3,8,98.7,10.2,99.2,11.5,98.8,15.7]];
const VNM=[[102,22.4,105.3,23.3,106.7,22,108,21.5,105.8,19,107.6,16.1,109.3,13,109,11.5,106.7,10.3,105,8.7,104.8,10.4,106.3,11,107.5,12.5,107.5,14.7,107.5,16,105,19,103,20]];
const MYS=[[100.2,6.4,101,5.7,102,6.2,103.4,4.5,104.2,1.4,103.4,1.4,101.3,3,100.4,5.5],[109.6,2,111.3,2.6,114.2,4.5,115.5,5.3,117,7,119,5.2,117.7,4.2,115.8,4.3,114.7,1.5,112.5,1.5,110,1]];
const IDN=[[109,1.5,109.6,2,110,1,112.5,1.5,114.7,1.5,115.8,4.3,117.7,4.2,118,2.2,117.5,0.8,116.5,-1.5,116,-4,113,-3.5,111,-3.5,110,-1.5,109,0],
[95.3,5.5,97.5,5.2,100.5,2.2,103.5,0,104.5,-2,106,-3.1,105.8,-5.8,104.5,-5.8,102,-4,100.5,-1.3,98.8,1.8,96.5,3.8],
[105.2,-6.8,106.9,-6,108.6,-6.7,110.8,-6.5,112.7,-7,114.5,-7.8,114.4,-8.6,110,-8,106.5,-7.4],
[119.6,-5.4,119.5,-3.5,118.9,-2.7,119.8,0.2,120.8,1.3,125,1.6,124.5,0.5,120.2,0.4,120.1,-1,121.6,-1,123.4,-0.9,122,-1.7,122.8,-4.2,122.6,-5,121.6,-4.8,121,-2.7,120.4,-3,120.3,-5.5],
[114.5,-8.1,115.7,-8.3,115.2,-8.8],[116,-8.4,119,-8.3,119,-8.8,116.7,-9],[119.8,-8.4,123,-8.2,122.8,-8.9,120,-8.8],[123.5,-10.3,125,-9,124.8,-9.9],[119.2,-9.5,120.8,-10,120,-10.3],
[127.5,2,128.5,1.5,128,0,128.3,-0.8,127.7,0],[128,-3,130.8,-3.2,129.5,-3.5],
[131,-0.8,134,-0.8,135,-3.3,137.5,-1.6,141,-2.6,141,-9.1,139,-8,138,-8.3,138.8,-7,138,-5.5,135.5,-4.5,133,-4,132.8,-3,134,-2.5,132.2,-2.8,131,-1.5]];
const PHL=[[120.5,18.5,122.2,18.5,122,16,124,13,121.5,13.8,120.3,14.8,120,16.5],[122,7,123.5,8.7,125.5,9.8,126.5,7.5,125.5,5.8,124,6.5],[122,11.8,125.5,12.5,125,10,123,9.2],[117.3,8.5,119.5,11.3,119.2,10]];
const AUS=[[114,-22,113.5,-26,115.7,-32,115,-34.3,118,-35,123.5,-34,126,-32.3,131,-31.5,134,-32.8,135.7,-34.9,137.7,-33,138,-35.6,140.5,-38,143.5,-38.8,146.4,-39,150,-37.5,151.5,-33,153.5,-28.5,153,-25,149.5,-22,146,-19,145.3,-15,143.5,-14,142.5,-10.8,141.5,-13,141,-17,139,-17.3,135.5,-15,137,-12.3,132.5,-11.5,130,-13,129,-15,125.5,-14.5,122,-18,119,-20],[144.7,-40.7,148.3,-40.9,148,-43,146,-43.5,145.3,-42.5]];
const NZL=[[172.7,-34.5,175.5,-36.5,178.5,-37.7,177,-39.5,175.3,-41.6,174.8,-39.8,174.6,-37.5],[172.7,-40.5,174.3,-41.6,172.8,-43.7,171,-45.5,169,-46.6,166.5,-46,168.3,-44,171,-42.5]];
const SYR=[[36,36.9,36.7,36.8,40,36.9,42.4,37.1,41.2,36,41,34.4,38.8,33.4,36.8,32.3,35.9,32.8,35.9,33.3,36.6,34.2,36,34.7]];
const ISR=[[35.1,33.1,35.9,33.3,35.5,31.5,34.9,29.5,34.3,31.3]];
const JOR=[[34.9,29.5,35.5,31.5,35.9,32.8,36.8,32.3,39,32,37,31.5,38,30.5,36.5,29.3]];
const IRQ=[[42.4,37.1,44.8,37.2,45.4,35.9,46,33,47.7,31,48.5,30,48.1,30,47,29.1,44.7,29.2,41.5,31.2,39,32,38.8,33.4,41,34.4,41.2,36]];
const KWT=[[48.1,30,48.3,28.7,47,29.1]];
const SAU=[[34.9,29.5,36.5,29.3,38,30.5,37,31.5,39,32,41.5,31.2,44.7,29.2,47,29.1,48.3,28.7,50,26.5,50.8,24.8,51.6,24.1,55.2,22.7,55.6,22,55,20,52,19,49,18.6,46.5,17.3,43.3,17.5,42.7,16.4,40,20,38.5,22,37.2,25,35,28]];
const OMN=[[56.4,24.9,58.7,23.6,59.8,22.4,58,20.4,57.7,18.9,55,17.4,53,16.6,52,19,55,20,55.6,22,55.2,22.7]];
const YEM=[[42.7,16.4,43.3,17.5,46.5,17.3,49,18.6,52,19,53,16.6,48,14,45,12.8,43.5,12.7,43,14],[53.3,12.6,54.5,12.5,53.8,12.3]];
const EGY=[[25,31.6,29,31,31,31.6,32.3,31.2,34.3,31.3,34.9,29.5,34.3,27.8,33,29.2,33.6,27.8,35.5,24,35.6,23,36.9,22,25,22]];
const LBY=[[9.5,30.2,11.5,33.1,15,32.3,19,30.3,20,32.8,23,32.6,25,31.6,25,22,24,20,24,19.5,16,23.4,15,23,12,23.5,10,24.5,10,26.4,9.8,29.5]];
const TUN=[[9.5,30.2,9,32,7.6,33.5,8.3,36,8.8,37,11,37,10.6,35,10.2,34,11.5,33.1]];
const DZA=[[-2,35.1,-1,35.7,3,36.9,8.8,37,8.3,36,7.6,33.5,9,32,9.5,30.2,9.8,29.5,10,26.4,10,24.5,12,23.5,5.8,19.4,4.2,19,3.2,19,3.2,19.8,1,21,-4.8,25,-8.7,27.3,-8.7,28.7,-4,30.5,-1.2,32.2,-1.7,33.5]];
const MAR=[[-5.9,35.8,-2,35.1,-1.7,33.5,-1.2,32.2,-4,30.5,-8.7,28.7,-8.7,27.7,-13.2,27.7,-10,29.5,-9.8,31.5,-7,33.7]];
const ETH=[[36.5,14.3,37,14.4,40,14.5,42.5,12.5,42.8,11,44,9,48,8,45,5,42.8,4.3,41,3.9,39.5,3.4,35.9,4.6,35,5,33,8,34.2,10.5]];
const KEN=[[35.9,4.6,39.5,3.4,41,3.9,41,-1.7,39.3,-4.7,37.7,-3.5,34,-1,34,1,35,2,34,4.2,35,5]];
const UGA=[[30.8,3.6,34,4.2,35,2,34,1,34,-1,30.5,-1,29.6,-1.4,30,1,31,2.2]];
const TZA=[[30.5,-1,34,-1,37.7,-3.5,39.3,-4.7,38.9,-6.5,39.5,-8,40.4,-10.5,37.5,-11.7,34.9,-11.6,34,-9.5,32,-9,30.7,-8.2,29.5,-6,29.5,-4.5,30.7,-3,30.4,-2.4]];
const COD=[[12.2,-6,13,-4.8,14.2,-4.8,15.8,-4,17.7,-0.5,18.2,2,18.6,3.5,22,4.5,27.5,5,30.8,3.6,31,2.2,30,1,29.6,-1.4,29,-1.4,29,-2.7,29.5,-4.5,29.5,-6,30.7,-8.2,28.7,-8.5,28.4,-11.8,29.7,-12.2,29.7,-13.4,27.2,-11.7,25.3,-11.3,24,-10.9,22.3,-11.2,21.8,-7.3,19.5,-7,17.5,-8,16.5,-5.9]];
const AGO=[[12.2,-6,16.5,-5.9,17.5,-8,19.5,-7,21.8,-7.3,22.3,-11.2,24,-10.9,24,-13,22,-13,22,-16.2,23.4,-17.6,21.3,-17.9,18.5,-17.4,13.9,-17.4,11.8,-17.3,13.8,-11,13,-8.5]];
const ZMB=[[22,-13,24,-13,24,-10.9,25.3,-11.3,27.2,-11.7,29.7,-13.4,29.7,-12.2,28.4,-11.8,28.7,-8.5,30.7,-8.2,32,-9,34,-9.5,33,-11,33.2,-14,30.3,-15.5,28.9,-16,27,-18,25.3,-17.8,23.4,-17.6,22,-16.2]];
const MWI=[[34,-9.5,34.9,-11.6,35.9,-14.5,35.3,-17,34.4,-15,33.2,-14,33,-11]];
const ZWE=[[25.3,-17.8,27,-18,28.9,-16,30.3,-15.5,32.7,-16.5,33,-20,31.3,-22.4,29.4,-22.2,27.5,-20.5,26,-18.7]];
const NAM=[[11.8,-17.3,13.9,-17.4,18.5,-17.4,21.3,-17.9,23.4,-17.6,20,-18,20,-22,20,-28.4,17,-28.2,16.5,-28.6,15,-26.5,14.5,-22.5,12.5,-18.5]];
const ZAF=[[16.5,-28.6,17,-28.2,20,-28.4,20.8,-26.8,22.8,-25.5,25.5,-25.7,26.8,-24.5,29.4,-22.2,31.3,-22.4,32,-24.5,32,-26,32.9,-26.9,32.4,-28.6,30.5,-31,27,-34,25.7,-34,22,-34.2,19.9,-34.8,18.4,-34.2,18,-32.5]];
const NGA=[[2.7,6.4,4.4,6.3,5.5,4.8,7,4.4,8.5,4.6,9.2,6.5,11.3,6.6,13.6,11,14.2,12.6,13.5,13.7,12.5,13.1,9,12.9,7,13,4,13.5,3.6,11.7,3.8,10,2.8,9]];
const CMR=[[8.5,4.6,9.8,2.2,16,2.3,15,4,14.5,6,15.5,7.5,14,10,15,12,14.2,12.6,13.6,11,11.3,6.6,9.2,6.5]];
const GHA=[[-3.2,5.1,-2,4.7,1.2,6.1,-0.1,11.1,-2.8,11,-2.8,9,-3.2,6.5]];
const CIV=[[-7.5,4.4,-3.2,5.1,-3.2,6.5,-2.8,9,-2.8,9.6,-3.5,9.9,-5.5,10.4,-8,10.2,-7.8,8.4,-8.5,7.5,-7.5,5.5]];
const SEN=[[-16.5,16.2,-14,16.5,-12.2,14.8,-11.4,12.4,-13,12.6,-16.7,12.3,-17.5,14.7]];
const lakes=[[-71.8,10.8,-71,10.8,-71,9.4,-71.8,9.4],[29.3,-4.5,29.8,-5,30.6,-7.5,30.2,-7.4,29.3,-5.5],[-51,-0.3,-49.5,-0.4,-49,-1.2,-50.5,-1.1]];
// no-data countries drawn first
const noDataOutlines=[GRL,ISL,CUB,HTI,PRI,BLZ,CRI,GUY,SUR,FLK,CZE,SVK,SVN,HRV,BIH,MNE,ALB,MKD,BGR,LVA,EST,CYP,TKM,IRN,AFG,NPL,BTN,MNG,PRK,MMR,LAO,KHM,MDG,PNG,QAT,ARE,LBN,ESH,MRT,MLI,NER,TCD,SDN,SSD,CAF,ERI,SOM,RWA,MOZ,BWA,LSO,SWZ,GAB,COG,BEN,BFA,GIN];
// countries with a value: outline list and % would defend, same order
const dataOutlines=[CAN,USA,MEX,GTM,HND,SLV,NIC,PAN,JAM,DOM,COL,VEN,GUF,BRA,PER,ECU,BOL,PRY,ARG,CHL,URY,GBR,IRL,NOR,SWE,FIN,DNK,NLD,BEL,FRA,ESP,PRT,DEU,CHE,AUT,ITA,POL,HUN,SRB,ROU,MDA,UKR,BLR,LTU,GRC,TUR,GEO,ARM,AZE,RUS,KAZ,UZB,KGZ,TJK,PAK,IND,BGD,LKA,CHN,TWN,KOR,JPN,THA,VNM,MYS,IDN,PHL,AUS,NZL,SYR,ISR,JOR,IRQ,KWT,SAU,OMN,YEM,EGY,LBY,TUN,DZA,MAR,ETH,KEN,UGA,TZA,COD,AGO,ZMB,MWI,ZWE,NAM,ZAF,NGA,CMR,GHA,CIV,SEN];
const dataValues=[30,44,39,38,37,38,36,27,29,64,34,28,26,28,44,40,36,44,53,40,33,30,30,62,56,52,57,29,30,26,30,33,28,26,35,26,38,38,38,38,33,34,48,38,56,67,73,73,73,33,52,52,49,48,68,47,73,37,47,39,39,24,61,46,37,60,52,33,30,56,36,74,60,74,63,56,63,73,58,70,77,64,52,44,49,58,34,39,43,43,44,38,45,30,38,53,46,62];
// ---------- helpers ----------
function hex(c){return [1,3,5].map(i=>parseInt(c.substr(i,2),16));}
function colorFor(v){for(let i=1;i<scaleStops.length;i++){if(v<=scaleStops[i]){const t=(v-scaleStops[i-1])/(scaleStops[i]-scaleStops[i-1]);const a=hex(scaleColors[i-1]),b=hex(scaleColors[i]);return 'rgb('+a.map((x,k)=>Math.round(x+(b[k]-x)*t)).join(',')+')';}}return scaleColors[scaleColors.length-1];}
function ring(flat){let p=[];for(let i=0;i<flat.length;i+=2)p.push([flat[i],flat[i+1]]);let a=0;for(let i=0;i<p.length;i++){const q=p[(i+1)%p.length];a+=p[i][0]*q[1]-q[0]*p[i][1];}if(a>0)p.reverse();p.push(p[0]);let out=[];for(let i=0;i<p.length-1;i++){const n=Math.max(1,Math.ceil(Math.max(Math.abs(p[i+1][0]-p[i][0]),Math.abs(p[i+1][1]-p[i][1]))/1.5));for(let k=0;k<n;k++)out.push([p[i][0]+(p[i+1][0]-p[i][0])*k/n,p[i][1]+(p[i+1][1]-p[i][1])*k/n]);}out.push(p[0]);return out;}
function geoTrace(rings,color,lc,lw){let lon=[],lat=[];rings.forEach((r,i)=>{if(i){lon.push(null);lat.push(null);}ring(r).forEach(c=>{lon.push(c[0]);lat.push(c[1]);});});return {type:'scattergeo',mode:'lines',lon,lat,fill:'toself',fillcolor:color,line:{color:lc,width:lw},hoverinfo:'skip',showlegend:false,geo:'geo'};}
const OFF=105,W=1670,H=1754,FONT='"Open Sans", sans-serif';
const px=x=>(x+OFF)/W, py=y=>1-y/H;
function label(x,y,text,size,opt){return {xref:'paper',yref:'paper',x:px(x),y:py(y),text,showarrow:false,xanchor:'left',yanchor:'middle',align:'left',font:Object.assign({family:FONT,size,color:'#000'},opt||{})};}
const traces=[];
noDataOutlines.forEach(o=>traces.push(geoTrace(o,noDataColor,'#f6f6f6',0.5)));
dataOutlines.forEach((o,i)=>traces.push(geoTrace(o,colorFor(dataValues[i]),'#ffffff',0.5)));
traces.push(geoTrace(lakes,'#ffffff','#ffffff',0));
// legend ramp
const rampX=[];for(let i=0;i<=400;i++)rampX.push(i/4);
traces.push({type:'heatmap',x:rampX,y:[0],z:[rampX],xaxis:'x2',yaxis:'y3',zmin:0,zmax:100,showscale:false,hoverinfo:'skip',colorscale:legendStops.map((s,i)=>[s/100,legendColors[i]])});
// bars
function bars(names,vals,ya){return [{type:'bar',orientation:'h',y:names,x:names.map(()=>100),xaxis:'x',yaxis:ya,marker:{color:'#ebebef'},hoverinfo:'skip',showlegend:false},{type:'bar',orientation:'h',y:names,x:vals,xaxis:'x',yaxis:ya,marker:{color:'#0280bc'},hoverinfo:'skip',showlegend:false}];}
traces.push(...bars(regimeNames,regimeValues,'y'),...bars(regionNames,regionValues,'y2'));
const BAND=68, Y1=1018, Y2=1206, BARH=24.6;
const ann=[];
ann.push(label(60,40,'Majorities in the Middle East and North Africa say they would fight to defend their country',30.5,{weight:700}));
ann.push(label(60,83,'% of population aged 18-55 who say “Yes” (%)',16.8,{style:'italic',color:'#111'}));
ann.push(label(60,945,'By regime type and region',31,{weight:700}));
ann.push({xref:'paper',yref:'paper',x:px(782.5),y:py(791),text:'Would defend (%)',showarrow:false,xanchor:'center',yanchor:'middle',font:{family:FONT,size:16,color:'#222'}});
function rowLabels(names,vals,y0,axis){names.forEach((n,i)=>{const c=y0+BAND*(i+0.5);ann.push(label(57.5,c-29,n,17.5,{color:'#666'}));ann.push({xref:'x',yref:axis,x:100,y:n,text:vals[i]+'%',showarrow:false,xanchor:'left',yanchor:'middle',xshift:7,yshift:1,font:{family:FONT,size:19.5,weight:700,color:'#333'}});});}
rowLabels(regimeNames,regimeValues,Y1,'y');rowLabels(regionNames,regionValues,Y2,'y2');
sideText.forEach((t,i)=>ann.push(label(1076,1043.5+i*38.7,t,23.8,{color:'#222'})));
ann.push(label(60,1671,'If your country is attacked by a foreign power, would you be personally willing to fight to defend it?',13.5,{weight:700,style:'italic'}));
ann.push(label(60,1693,'Yes / Not sure / No',13.5,{style:'italic',color:'#222'}));
const shapes=[];
shapes.push({type:'line',xref:'paper',yref:'paper',x0:px(61.5),x1:px(395),y0:py(1639),y1:py(1639),line:{color:'#000',width:1}});
legendTicks.slice(1,4).forEach(t=>shapes.push({type:'line',xref:'x2',yref:'y3 domain',x0:t,x1:t,y0:0,y1:1,line:{color:'#fff',width:2}}));
function rowLines(names,axis){names.forEach((n,i)=>{const h=BARH/BAND/2;shapes.push({type:'line',xref:'x',yref:axis,x0:0,x1:100,y0:i+h,y1:i+h,line:{color:'#b8b8bd',width:1}});shapes.push({type:'line',xref:'x',yref:axis,x0:0,x1:100,y0:i-h,y1:i-h,line:{color:'#dcdce0',width:1}});});}
rowLines(regimeNames,'y');rowLines(regionNames,'y2');
const hidden={visible:false,fixedrange:true};
const layout={width:W,height:H,margin:{l:0,r:0,t:0,b:0},paper_bgcolor:'#fff',plot_bgcolor:'rgba(0,0,0,0)',barmode:'overlay',bargap:1-BARH/BAND,showlegend:false,annotations:ann,shapes,
geo:{domain:{x:[0,1],y:[py(1043),1]},bgcolor:'rgba(0,0,0,0)',projection:{type:'robinson',scale:1},showland:false,showcoastlines:false,showframe:false,showcountries:false,showocean:false,showlakes:false,showrivers:false,showsubunits:false},
xaxis:Object.assign({domain:[px(60),px(911)],range:[0,100],anchor:'y'},hidden),
yaxis:Object.assign({domain:[py(Y1+BAND*2),py(Y1)],type:'category',categoryorder:'array',categoryarray:regimeNames,range:[1.5,-0.5],anchor:'x'},hidden),
yaxis2:Object.assign({domain:[py(Y2+BAND*5),py(Y2)],type:'category',categoryorder:'array',categoryarray:regionNames,range:[4.5,-0.5],anchor:'x'},hidden),
xaxis2:{domain:[px(598),px(966)],range:[0,100],anchor:'y3',tickvals:legendTicks,ticktext:legendTicks.map(String),ticklen:0,showline:false,showgrid:false,zeroline:false,fixedrange:true,tickfont:{family:FONT,size:16,color:'#222'},ticklabelstandoff:9},
yaxis3:Object.assign({domain:[py(834),py(812)],range:[-0.5,0.5],anchor:'x2'},hidden)};
Plotly.newPlot('c',traces,layout,{displayModeBar:false,staticPlot:true});
</script></body></html>
